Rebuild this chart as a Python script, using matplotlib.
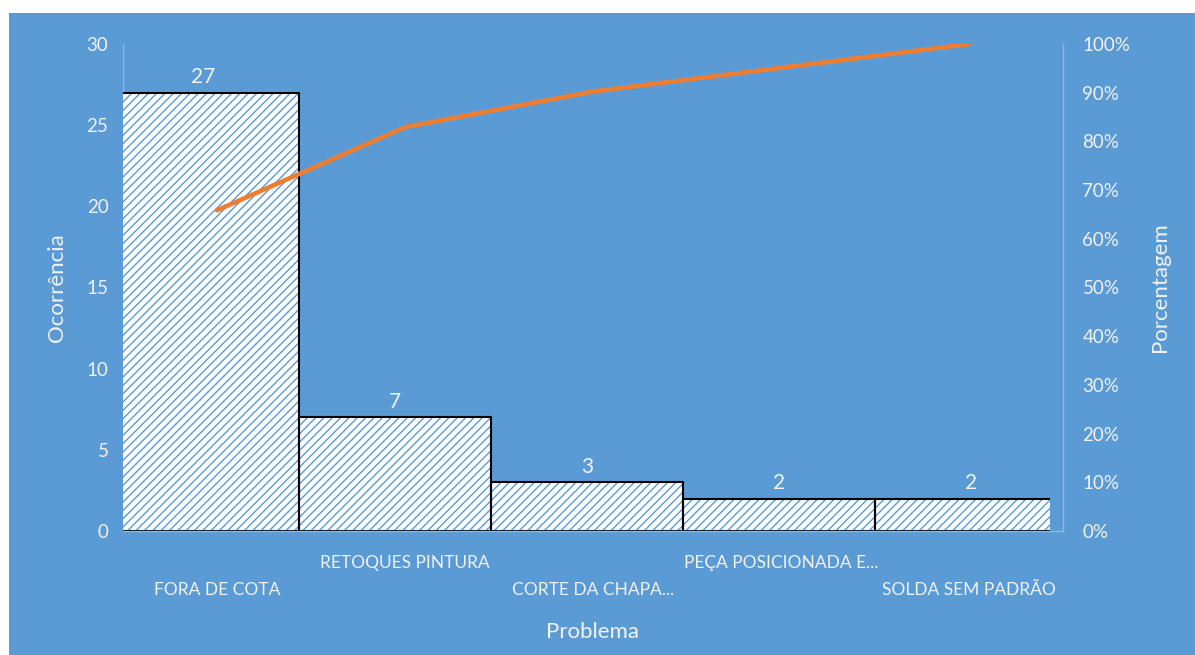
import matplotlib
matplotlib.use("Agg")
import matplotlib.pyplot as plt
import matplotlib.transforms as mtransforms
from matplotlib.patches import Rectangle
import numpy as np

categories = ["FORA DE COTA", "RETOQUES PINTURA", "CORTE DA CHAPA...",
              "PEÇA POSICIONADA E...", "SOLDA SEM PADRÃO"]
counts = [27, 7, 3, 2, 2]
cum_pct = list(np.cumsum(counts) / np.sum(counts) * 100)
left_ticks = [0, 5, 10, 15, 20, 25, 30]
right_ticks = [0, 10, 20, 30, 40, 50, 60, 70, 80, 90, 100]

BG = "#5B9BD5"
TXT = "#F2F2F2"
ORANGE = "#ED7D31"
AXL = "#8DB8E2"
FONT = ["Lato", "DejaVu Sans"]

plt.rcParams['font.family'] = FONT
plt.rcParams['hatch.linewidth'] = 1.0

W, H = 1195, 655
fig = plt.figure(figsize=(W / 100, H / 100), dpi=100)
fig.patch.set_facecolor("white")
fig.patches.append(Rectangle((9 / W, 0), 1 - 9 / W, (H - 13) / H,
                             transform=fig.transFigure, facecolor=BG,
                             edgecolor="none", zorder=-10))

bot = (H - 531) / H
top = (H - 44) / H
x_left = 123 / W
x_bar_right = 1050 / W
x_line_right = 1063 / W

# bar axes
axb = fig.add_axes([x_left, bot, x_bar_right - x_left, top - bot])
axb.patch.set_visible(False)
x = np.arange(len(categories))
axb.bar(x, counts, width=1.0, color="white", edgecolor=BG, hatch="////",
        linewidth=0, zorder=2)
axb.bar(x, counts, width=1.0, color="none", edgecolor="black",
        linewidth=1.5, zorder=3)
axb.set_xlim(-0.4167, 4.411)
axb.set_ylim(0, 30)
axb.set_yticks(left_ticks)
axb.set_yticklabels([str(t) for t in left_ticks])
axb.tick_params(axis='y', length=0, pad=10.5, labelcolor=TXT, labelsize=13.5)
axb.set_xticks([])
for s in axb.spines.values():
    s.set_visible(False)
for xi, c in zip(x, counts):
    axb.annotate(str(c), (xi, c), xytext=(0, 4), textcoords="offset points",
                 ha="center", va="bottom", color=TXT, fontsize=15)
axb.set_ylabel("Ocorrência", color=TXT, fontsize=16, va="center")
axb.yaxis.set_label_coords((57 - 123) / 927, 0.5)

# line axes
axl = fig.add_axes([x_left, bot, x_line_right - x_left, top - bot])
axl.patch.set_visible(False)
axl.plot(x, cum_pct, color=ORANGE, linewidth=3.3, solid_capstyle="round",
         zorder=5)
axl.set_xlim(-0.5, 4.5)
axl.set_ylim(0, 100)
axl.yaxis.tick_right()
axl.yaxis.set_label_position("right")
axl.set_yticks(right_ticks)
axl.set_yticklabels([f"{t}%" for t in right_ticks])
axl.tick_params(axis='y', length=0, pad=14, labelcolor=TXT, labelsize=13.5)
axl.set_xticks([])
axl.spines["top"].set_visible(False)
for k in ("left", "right", "bottom"):
    axl.spines[k].set_color(AXL)
    axl.spines[k].set_linewidth(1.0)
axl.spines["left"].set_visible(False)
axl.set_ylabel("Porcentagem", color=TXT, fontsize=16, va="center")
axl.yaxis.set_label_coords((1160 - 123) / 940, 0.5)

trans = mtransforms.blended_transform_factory(axl.transData, axl.transAxes)
for i, lab in enumerate(categories):
    yy = -59 / 487 if i % 2 == 0 else -32 / 487
    axl.text(i, yy, lab, transform=trans, ha="center", va="center",
             color=TXT, fontsize=12.5)
axl.text(0.5, -101 / 487, "Problema", transform=axl.transAxes, ha="center",
         va="center", color=TXT, fontsize=16)

# faint left axis line
axb.axvline(-0.4167, color=AXL, linewidth=1.0, zorder=1)

fig.savefig("out.png", dpi=100, facecolor="white")
